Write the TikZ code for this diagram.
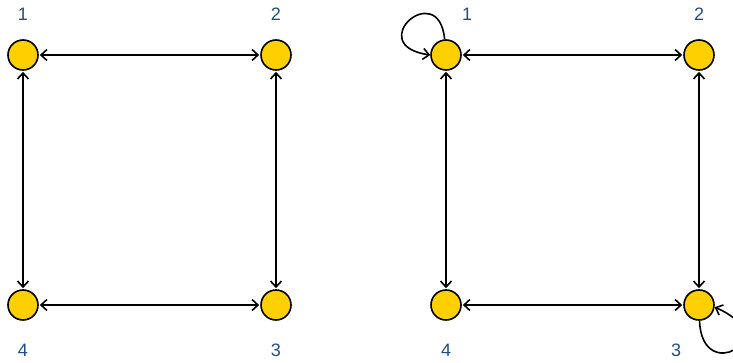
\documentclass[tikz,border=0pt]{standalone}
\usepackage{fontspec}
\setmainfont{Liberation Sans}
\usetikzlibrary{arrows.meta}
\definecolor{nodefill}{HTML}{FFD000}
\definecolor{labelblue}{HTML}{1F4C8C}
\begin{document}
\begin{tikzpicture}[x=1pt,y=1pt,
  vert/.style={circle,draw=black,line width=1.6pt,fill=nodefill,minimum size=30pt,inner sep=0pt},
  lab/.style={text=labelblue,font=\fontsize{18}{20}\selectfont},
  conn/.style={line width=1.6pt,{Straight Barb[length=6pt,width=11pt]}-{Straight Barb[length=6pt,width=11pt]},shorten <=1pt,shorten >=1pt},
  selfloop/.style={line width=1.6pt,-{Straight Barb[length=6pt,width=11pt]}}]
\useasboundingbox (0,0) rectangle (733,362);
% left graph
\node[vert] (a1) at (23,307) {};
\node[vert] (a2) at (276,307) {};
\node[vert] (a4) at (23,57) {};
\node[vert] (a3) at (276,57) {};
\node[lab] (la1) at (23,348) {1};
\node[lab] (la2) at (276,348) {2};
\node[lab] (la4) at (23,12) {4};
\node[lab] (la3) at (276,12) {3};
\draw[conn] (a1) -- (a2);
\draw[conn] (a1) -- (a4);
\draw[conn] (a2) -- (a3);
\draw[conn] (a4) -- (a3);
% right graph
\node[vert] (b1) at (446,307) {};
\node[vert] (b2) at (699,307) {};
\node[vert] (b4) at (446,57) {};
\node[vert] (b3) at (699,57) {};
\node[lab] (lb1) at (467,348) {1};
\node[lab] (lb2) at (699,348) {2};
\node[lab] (lb4) at (446,12) {4};
\node[lab] (lb3) at (676,12) {3};
\draw[conn] (b1) -- (b2);
\draw[conn] (b1) -- (b4);
\draw[conn] (b2) -- (b3);
\draw[conn] (b4) -- (b3);
\draw[selfloop] (b1.95) .. controls +(-6,62) and +(-68,10) .. (b1.180);
\draw[selfloop] (b3.272) .. controls +(2,-65) and +(70,-30) .. (b3.-8);
\end{tikzpicture}
\end{document}
